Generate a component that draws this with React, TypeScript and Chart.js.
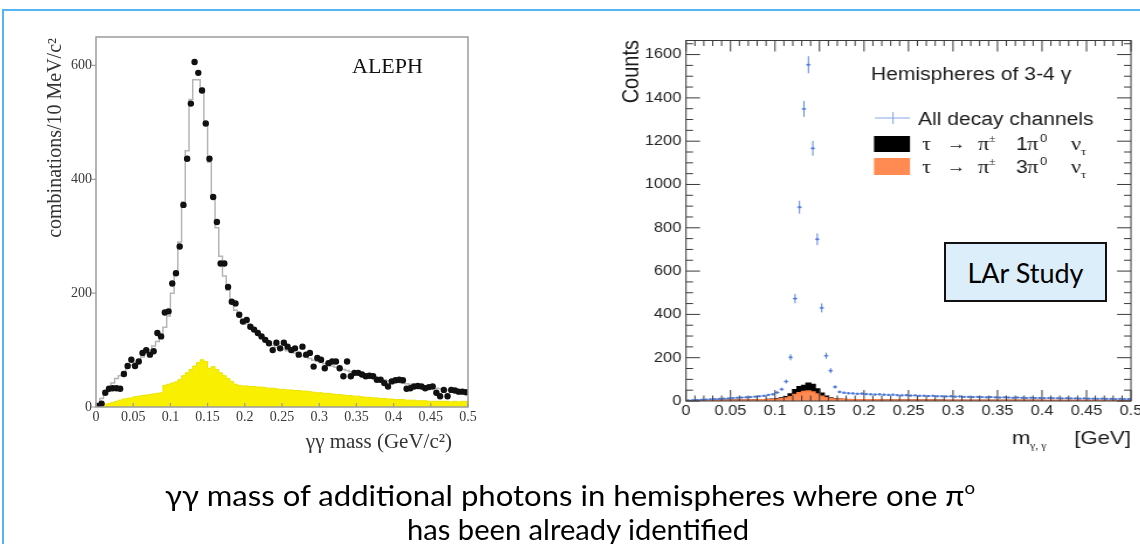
import React, { useEffect, useLayoutEffect, useRef } from "react";
import { Chart, registerables } from "chart.js";
Chart.register(...registerables);

// ---------- data ----------
const BIN_W = 0.005; // GeV per bin

// ALEPH: data points (black dots), one per 5 MeV bin from 0 to 0.5
const ALEPH_DATA = [
  2, 6, 25, 32, 33, 33, 32, 58, 72, 83,
  72, 80, 95, 100, 92, 98, 130, 124, 166, 168,
  217, 235, 282, 355, 436, 533, 606, 587, 556, 498,
  436, 369, 325, 252, 252, 211, 185, 182, 162, 150,
  153, 141, 136, 130, 124, 118, 112, 100, 113, 103,
  113, 106, 100, 103, 92, 106, 92, 95, 71, 86,
  83, 68, 77, 80, 80, 68, 54, 80, 54, 60,
  60, 57, 54, 55, 54, 48, 48, 42, 36, 45,
  47, 48, 47, 32, 33, 36, 37, 36, 33, 35,
  36, 25, 19, 30, 19, 30, 29, 27, 27, 26,
];
// ALEPH: simulation (grey step histogram)
const ALEPH_MC = [
  5, 15, 28, 35, 42, 50, 55, 62, 68, 74,
  78, 83, 88, 94, 100, 107, 115, 125, 140, 160,
  200, 235, 290, 360, 450, 540, 575, 575, 560, 500,
  430, 370, 315, 265, 230, 205, 185, 170, 160, 152,
  146, 140, 134, 128, 122, 117, 112, 108, 105, 103,
  101, 99, 97, 95, 93, 90, 88, 85, 82, 80,
  78, 76, 74, 72, 70, 68, 66, 64, 62, 60,
  58, 57, 55, 54, 52, 50, 49, 48, 46, 45,
  44, 43, 42, 41, 40, 39, 38, 37, 36, 35,
  34, 33, 32, 31, 30, 30, 29, 28, 28, 27,
];
// ALEPH: background (yellow filled histogram)
const ALEPH_BKG = [
  3, 4, 5, 6, 8, 10, 12, 14, 15, 16,
  18, 19, 20, 21, 22, 23, 24, 25, 38, 40,
  42, 44, 48, 55, 60, 66, 72, 78, 83, 80,
  68, 71, 66, 60, 55, 50, 45, 40, 38, 37,
  37, 36, 36, 35, 35, 34, 33, 33, 32, 31,
  31, 30, 30, 29, 29, 28, 28, 27, 26, 25,
  25, 24, 24, 23, 22, 22, 21, 20, 20, 19,
  19, 18, 17, 17, 16, 16, 15, 15, 14, 14,
  13, 13, 13, 12, 12, 12, 11, 11, 11, 10,
  10, 10, 10, 10, 10, 9, 10, 9, 10, 10,
];
const ALEPH_X_TICKS = [0, 0.05, 0.1, 0.15, 0.2, 0.25, 0.3, 0.35, 0.4, 0.45, 0.5];
const ALEPH_X_LABELS = ["0", "0.05", "0.1", "0.15", "0.2", "0.25", "0.3", "0.35", "0.4", "0.45", "0.5"];
const ALEPH_Y_TICKS = [0, 200, 400, 600];
const ALEPH_Y_LABELS = ["0", "200", "400", "600"];

// LAr study: all decay channels (blue crosses)
const LAR_ALL = [
  3, 4, 5, 6, 7, 8, 9, 10, 11, 12,
  14, 15, 16, 17, 18, 20, 22, 24, 28, 31,
  39, 54, 90, 202, 473, 895, 1349, 1553, 1167, 747,
  430, 209, 140, 65, 42, 38, 36, 35, 33, 34,
  32, 31, 30, 31, 29, 28, 29, 27, 26, 27,
  25, 26, 24, 24, 23, 24, 22, 22, 21, 22,
  20, 21, 19, 19, 18, 19, 18, 17, 18, 17,
  16, 17, 16, 15, 16, 15, 14, 15, 14, 14,
  13, 14, 13, 13, 12, 13, 12, 12, 11, 12,
  11, 11, 10, 11, 10, 10, 9, 10, 9, 9,
];
// tau -> pi+- 1 pi0 nu (black)
const LAR_1PI0 = [
  1, 1, 1, 2, 2, 2, 2, 3, 3, 3,
  3, 3, 4, 4, 4, 5, 5, 6, 7, 8,
  10, 14, 20, 32, 52, 66, 72, 82, 76, 56,
  36, 22, 14, 10, 8, 7, 6, 6, 5, 5,
  5, 5, 4, 4, 4, 4, 4, 4, 3, 3,
  3, 3, 3, 3, 3, 3, 3, 3, 2, 2,
  2, 2, 2, 2, 2, 2, 2, 2, 2, 2,
  2, 2, 2, 2, 2, 2, 2, 2, 2, 2,
  1, 1, 1, 1, 1, 1, 1, 1, 1, 1,
  1, 1, 1, 1, 1, 1, 1, 1, 1, 1,
];
// tau -> pi+- 3 pi0 nu (orange)
const LAR_3PI0 = [
  1, 1, 2, 2, 2, 3, 3, 3, 3, 4,
  4, 4, 5, 5, 5, 5, 6, 6, 7, 7,
  8, 10, 14, 20, 30, 38, 44, 46, 42, 32,
  22, 15, 11, 9, 8, 7, 7, 6, 6, 6,
  6, 6, 6, 5, 5, 5, 5, 5, 5, 5,
  5, 5, 5, 5, 5, 4, 4, 4, 4, 4,
  4, 4, 4, 4, 4, 4, 4, 4, 4, 4,
  4, 4, 4, 4, 4, 3, 3, 3, 3, 3,
  3, 3, 3, 3, 3, 3, 3, 3, 3, 3,
  3, 3, 3, 3, 3, 3, 3, 3, 3, 3,
];
const LAR_X_TICKS = [0, 0.05, 0.1, 0.15, 0.2, 0.25, 0.3, 0.35, 0.4, 0.45, 0.5];
const LAR_X_LABELS = ["0", "0.05", "0.1", "0.15", "0.2", "0.25", "0.3", "0.35", "0.4", "0.45", "0.5"];
const LAR_Y_TICKS = [0, 200, 400, 600, 800, 1000, 1200, 1400, 1600];
const LAR_Y_LABELS = ["0", "200", "400", "600", "800", "1000", "1200", "1400", "1600"];

// ---------- helpers ----------
const centers = (vals: number[]) => vals.map((v, i) => ({ x: (i + 0.5) * BIN_W, y: v }));
const steps = (vals: number[]) => {
  const pts = vals.map((v, i) => ({ x: i * BIN_W, y: v }));
  pts.push({ x: vals.length * BIN_W, y: vals[vals.length - 1] });
  return pts;
};

const S = 1.17; // horizontal stretch of the right picture
const OFF = 560;
const C = (px: number) => (px - OFF) / S;

const SERIF = '"Liberation Serif", "Times New Roman", serif';
const SANS = '"Liberation Sans", Arial, sans-serif';

const alephPlugin = {
  id: "alephDecor",
  afterDraw(chart: any) {
    const { ctx, chartArea: a, scales } = chart;
    const xs = scales.x, ys = scales.y;
    ctx.save();
    ctx.strokeStyle = "#9c9c9c";
    ctx.lineWidth = 1.5;
    ctx.strokeRect(a.left, a.top, a.right - a.left, a.bottom - a.top);
    ctx.lineWidth = 1.2;
    ctx.beginPath();
    ALEPH_Y_TICKS.forEach((v) => {
      const y = ys.getPixelForValue(v);
      ctx.moveTo(a.left - 5, y);
      ctx.lineTo(a.left, y);
    });
    ALEPH_X_TICKS.forEach((v) => {
      const x = xs.getPixelForValue(v);
      ctx.moveTo(x, a.bottom);
      ctx.lineTo(x, a.bottom - 4);
    });
    ctx.stroke();
    ctx.fillStyle = "#111";
    ctx.textBaseline = "alphabetic";
    ctx.textAlign = "left";
    ctx.font = `22px ${SERIF}`;
    ctx.fillText("ALEPH", 352, 73);
    ctx.font = `21px ${SERIF}`;
    ctx.textAlign = "right";
    ctx.fillStyle = "#333";
    ctx.fillText("γγ mass (GeV/c²)", 452, 448);
    ctx.translate(61, 38);
    ctx.rotate(-Math.PI / 2);
    ctx.font = `20px ${SERIF}`;
    ctx.fillText("combinations/10 MeV/c²", 0, 0);
    ctx.restore();
  },
};

const larPlugin = {
  id: "larDecor",
  afterDatasetsDraw(chart: any) {
    const { ctx, scales } = chart;
    const xs = scales.x, ys = scales.y;
    const meta = chart.getDatasetMeta(0);
    const halfW = (xs.getPixelForValue(BIN_W) - xs.getPixelForValue(0)) / 2;
    ctx.save();
    ctx.strokeStyle = "#5a86e0";
    ctx.fillStyle = "#4a78dc";
    ctx.lineWidth = 1;
    meta.data.forEach((pt: any, i: number) => {
      const v = LAR_ALL[i];
      const e = Math.sqrt(v);
      const y1 = ys.getPixelForValue(v + e);
      const y2 = ys.getPixelForValue(Math.max(0, v - e));
      ctx.beginPath();
      ctx.moveTo(pt.x - halfW, pt.y);
      ctx.lineTo(pt.x + halfW, pt.y);
      ctx.moveTo(pt.x, y1);
      ctx.lineTo(pt.x, y2);
      ctx.stroke();
      ctx.fillRect(pt.x - 1, pt.y - 1, 2, 2);
    });
    ctx.restore();
  },
  afterDraw(chart: any) {
    const { ctx, chartArea: a, scales } = chart;
    const xs = scales.x, ys = scales.y;
    ctx.save();
    ctx.strokeStyle = "#3a3a3a";
    ctx.lineWidth = 1;
    ctx.strokeRect(a.left, a.top, a.right - a.left, a.bottom - a.top);
    ctx.beginPath();
    for (let v = 0; v <= ys.max; v += 50) {
      const y = ys.getPixelForValue(v);
      const L = v % 200 === 0 ? 12 : 6;
      ctx.moveTo(a.left, y);
      ctx.lineTo(a.left + L, y);
      ctx.moveTo(a.right, y);
      ctx.lineTo(a.right - L, y);
    }
    for (let k = 0; k <= 50; k++) {
      const x = xs.getPixelForValue(k * 0.01);
      const L = k % 5 === 0 ? 11 : 5.5;
      ctx.moveTo(x, a.bottom);
      ctx.lineTo(x, a.bottom - L);
      ctx.moveTo(x, a.top);
      ctx.lineTo(x, a.top + L);
    }
    ctx.stroke();

    ctx.fillStyle = "#1a1a1a";
    ctx.textBaseline = "alphabetic";
    ctx.textAlign = "left";
    // legend header
    ctx.font = `18px ${SANS}`;
    ctx.fillText("Hemispheres of 3-4 γ", C(871), 80);
    // blue marker
    ctx.strokeStyle = "#86a6ea";
    ctx.beginPath();
    ctx.moveTo(C(875), 118);
    ctx.lineTo(C(910), 118);
    ctx.moveTo(C(893), 112);
    ctx.lineTo(C(893), 124);
    ctx.stroke();
    ctx.fillText("All decay channels", C(918), 125);
    // boxes
    ctx.fillStyle = "#000";
    ctx.fillRect(C(874), 136, C(910) - C(874), 16);
    ctx.fillStyle = "#ff8b53";
    ctx.fillRect(C(874), 158, C(910) - C(874), 17);
    ctx.fillStyle = "#1a1a1a";
    const row = (n: string, base: number) => {
      ctx.font = `19px ${SERIF}`;
      ctx.fillText("τ", C(922), base);
      ctx.font = `bold 16px ${SANS}`;
      ctx.fillText("→", C(947), base - 1);
      ctx.font = `19px ${SERIF}`;
      ctx.fillText("π", C(978), base);
      ctx.font = `10px ${SERIF}`;
      ctx.fillText("±", C(989), base - 8);
      ctx.font = `18px ${SANS}`;
      ctx.fillText(n, C(1016), base);
      ctx.font = `19px ${SERIF}`;
      ctx.fillText("π", C(1027), base);
      ctx.font = `11px ${SANS}`;
      ctx.fillText("0", C(1040), base - 8);
      ctx.font = `19px ${SERIF}`;
      ctx.fillText("ν", C(1071), base);
      ctx.font = `11px ${SERIF}`;
      ctx.fillText("τ", C(1081), base + 5);
    };
    row("1", 150);
    row("3", 173);

    // axis titles
    ctx.font = `19px ${SANS}`;
    ctx.textAlign = "right";
    ctx.fillText("[GeV]", C(1131), 444);
    ctx.textAlign = "left";
    ctx.fillText("m", C(1012), 444);
    ctx.font = `10px ${SERIF}`;
    ctx.fillText("γ, γ", C(1030), 449);
    ctx.translate(C(638), 40);
    ctx.rotate(-Math.PI / 2);
    ctx.textAlign = "right";
    ctx.font = `20px ${SANS}`;
    ctx.fillText("Counts", 0, 0);
    ctx.restore();
  },
};

function alephConfig(): any {
  return {
    type: "line",
    data: {
      datasets: [
        {
          label: "data",
          data: centers(ALEPH_DATA),
          showLine: false,
          pointRadius: 3.2,
          pointBackgroundColor: "#111",
          pointBorderWidth: 0,
          borderColor: "#111",
        },
        {
          label: "simulation",
          data: steps(ALEPH_MC),
          stepped: true,
          borderColor: "#b5b5b5",
          borderWidth: 1.5,
          pointRadius: 0,
          fill: false,
        },
        {
          label: "background",
          data: steps(ALEPH_BKG),
          stepped: true,
          borderColor: "#ece400",
          borderWidth: 1,
          pointRadius: 0,
          fill: "origin",
          backgroundColor: "#f8f000",
        },
      ],
    },
    options: {
      responsive: false,
      animation: false,
      devicePixelRatio: 1,
      events: [],
      layout: { padding: { left: 56, right: 32, top: 37, bottom: 107 } },
      plugins: { legend: { display: false }, tooltip: { enabled: false } },
      scales: {
        x: {
          type: "linear",
          min: 0,
          max: 0.5,
          grid: { display: false, drawTicks: false },
          border: { display: false },
          afterBuildTicks: (s: any) => {
            s.ticks = ALEPH_X_TICKS.map((v) => ({ value: v }));
          },
          afterFit: (s: any) => {
            s.height = 30;
          },
          ticks: {
            autoSkip: false,
            maxRotation: 0,
            padding: 2,
            color: "#3a3a3a",
            font: { family: SERIF, size: 14 },
            callback: (_v: any, i: number) => ALEPH_X_LABELS[i],
          },
        },
        y: {
          type: "linear",
          min: 0,
          max: 650,
          grid: { display: false, drawTicks: false },
          border: { display: false },
          afterBuildTicks: (s: any) => {
            s.ticks = ALEPH_Y_TICKS.map((v) => ({ value: v }));
          },
          afterFit: (s: any) => {
            s.width = 40;
          },
          ticks: {
            padding: 4,
            color: "#3a3a3a",
            font: { family: SERIF, size: 14 },
            callback: (_v: any, i: number) => ALEPH_Y_LABELS[i],
          },
        },
      },
    },
    plugins: [alephPlugin],
  };
}

function larConfig(): any {
  const left = C(686);
  const right = C(1131);
  return {
    type: "line",
    data: {
      datasets: [
        {
          label: "All decay channels",
          data: centers(LAR_ALL),
          showLine: false,
          pointRadius: 0,
          borderColor: "#4f7fdc",
        },
        {
          label: "τ → π± 3π0 ντ",
          data: steps(LAR_3PI0),
          stepped: true,
          fill: "origin",
          backgroundColor: "#ff8b53",
          borderColor: "#ff7d42",
          borderWidth: 1.5,
          pointRadius: 0,
        },
        {
          label: "τ → π± 1π0 ντ",
          data: steps(LAR_1PI0),
          stepped: true,
          fill: "origin",
          backgroundColor: "#000",
          borderColor: "#000",
          borderWidth: 1.5,
          pointRadius: 0,
        },
      ],
    },
    options: {
      responsive: false,
      animation: false,
      devicePixelRatio: 1,
      events: [],
      layout: { padding: { left: left - 40, right: 518 - right, top: 40.5, bottom: 113 } },
      plugins: { legend: { display: false }, tooltip: { enabled: false } },
      scales: {
        x: {
          type: "linear",
          min: 0,
          max: 0.5,
          grid: { display: false, drawTicks: false },
          border: { display: false },
          afterBuildTicks: (s: any) => {
            s.ticks = LAR_X_TICKS.map((v) => ({ value: v }));
          },
          afterFit: (s: any) => {
            s.height = 30;
          },
          ticks: {
            autoSkip: false,
            maxRotation: 0,
            padding: 2,
            color: "#262626",
            font: { family: SANS, size: 14 },
            callback: (_v: any, i: number) => LAR_X_LABELS[i],
          },
        },
        y: {
          type: "linear",
          min: 0,
          max: 1665,
          grid: { display: false, drawTicks: false },
          border: { display: false },
          afterBuildTicks: (s: any) => {
            s.ticks = LAR_Y_TICKS.map((v) => ({ value: v }));
          },
          afterFit: (s: any) => {
            s.width = 40;
          },
          ticks: {
            padding: 4,
            color: "#262626",
            font: { family: SANS, size: 14 },
            callback: (_v: any, i: number) => LAR_Y_LABELS[i],
          },
        },
      },
    },
    plugins: [larPlugin],
  };
}

export default function App() {
  const leftRef = useRef<HTMLCanvasElement>(null);
  const rightRef = useRef<HTMLCanvasElement>(null);
  const line1 = useRef<HTMLDivElement>(null);
  const line2 = useRef<HTMLDivElement>(null);

  useEffect(() => {
    const c1 = new Chart(leftRef.current as HTMLCanvasElement, alephConfig());
    const c2 = new Chart(rightRef.current as HTMLCanvasElement, larConfig());
    return () => {
      c1.destroy();
      c2.destroy();
    };
  }, []);

  useLayoutEffect(() => {
    const a = line1.current, b = line2.current;
    if (!a || !b) return;
    const wa = a.getBoundingClientRect().width;
    const sa = 810 / wa;
    const wb = b.getBoundingClientRect().width;
    const sb = 342 / wb;
    a.style.transform = `scaleX(${sa})`;
    a.style.left = `${570 - (wa * sa) / 2}px`;
    b.style.transform = `scaleX(${sb})`;
    b.style.left = `${578 - (wb * sb) / 2}px`;
  }, []);

  const captionStyle: React.CSSProperties = {
    position: "absolute",
    whiteSpace: "nowrap",
    fontFamily: "Lato, 'Open Sans', sans-serif",
    fontSize: 29,
    lineHeight: "29px",
    color: "#000",
    transformOrigin: "0 0",
  };

  return (
    <div
      style={{
        position: "absolute",
        left: 0,
        top: 0,
        width: 1140,
        height: 544,
        overflow: "hidden",
        background: "#fff",
      }}
    >
      <div
        style={{
          position: "absolute",
          left: 2,
          top: 9,
          width: 1300,
          height: 700,
          borderTop: "2px solid #55b5f3",
          borderLeft: "2px solid #55b5f3",
        }}
      />
      <canvas
        ref={leftRef}
        width={500}
        height={544}
        style={{ position: "absolute", left: 0, top: 0, width: 500, height: 544 }}
      />
      <div
        style={{
          position: "absolute",
          left: OFF,
          top: 0,
          width: 518,
          height: 544,
          transform: `scaleX(${S})`,
          transformOrigin: "0 0",
        }}
      >
        <canvas ref={rightRef} width={518} height={544} style={{ width: 518, height: 544 }} />
      </div>
      <div
        style={{
          position: "absolute",
          left: 944,
          top: 242,
          width: 163,
          height: 60,
          boxSizing: "border-box",
          border: "2px solid #111",
          background: "#ddeefb",
          display: "flex",
          alignItems: "center",
          justifyContent: "center",
          fontFamily: "Lato, 'Open Sans', sans-serif",
          fontSize: 27,
          color: "#000",
        }}
      >
        <span>LAr Study</span>
      </div>
      <div ref={line1} style={{ ...captionStyle, top: 480, left: 165 }}>
        γγ mass of additional photons in hemispheres where one π
        <span style={{ fontSize: "0.6em", position: "relative", top: "-0.7em" }}>o</span>
      </div>
      <div ref={line2} style={{ ...captionStyle, top: 514, left: 410 }}>
        has been already identified
      </div>
    </div>
  );
}
